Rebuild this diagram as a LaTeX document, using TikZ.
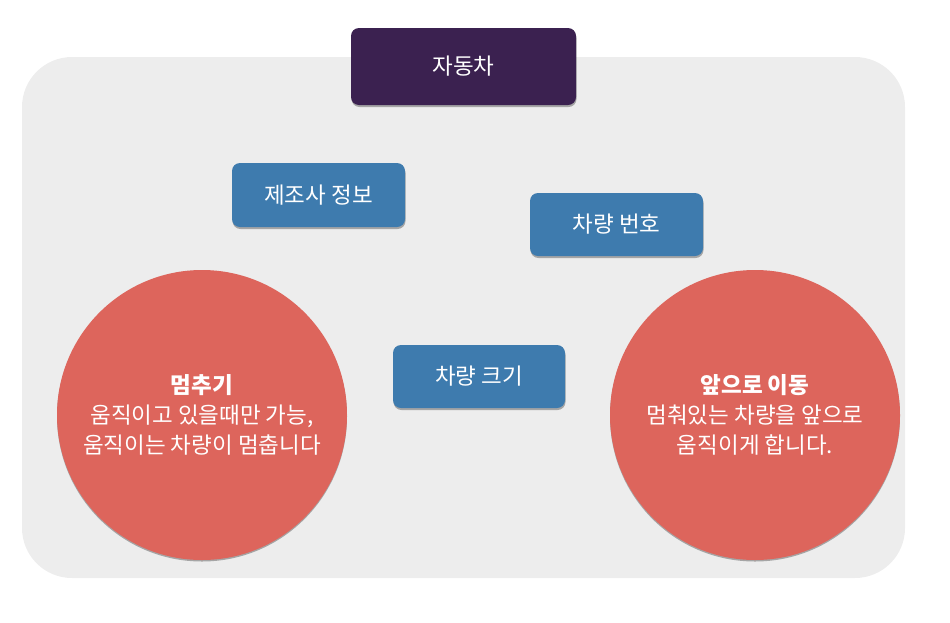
\documentclass[tikz,border=0pt]{standalone}
\usepackage{fontspec}
\newfontfamily\kr{Noto Sans CJK KR}
\usetikzlibrary{shadows}
\definecolor{bgpanel}{HTML}{EDEDED}
\definecolor{topc}{HTML}{3B2150}
\definecolor{bluec}{HTML}{3E7BAE}
\definecolor{redc}{HTML}{DD655C}
\tikzset{
  px/.style={x=1pt,y=-1pt},
  boxstyle/.style={rounded corners=8pt, text=white, font=\kr\fontsize{22.5}{26}\selectfont,
    drop shadow={shadow xshift=0.5pt, shadow yshift=-2pt, fill=black, opacity=0.3}, inner sep=0pt},
  circstyle/.style={circle, fill=redc, text=white, align=center, inner sep=0pt,
    font=\kr\fontsize{22.5}{30}\selectfont,
    drop shadow={shadow xshift=0pt, shadow yshift=-1.5pt, fill=black, opacity=0.3}}
}
\begin{document}
\begin{tikzpicture}[px]
\useasboundingbox (0,0) rectangle (950,622);
\fill[bgpanel, rounded corners=50pt] (22,57) rectangle (905,578);
\node[boxstyle, fill=topc, minimum width=225pt, minimum height=77pt] (car) at (463.5,66.5) {자동차};
\node[boxstyle, fill=bluec, minimum width=173pt, minimum height=64pt] (maker) at (318.5,195) {제조사 정보};
\node[boxstyle, fill=bluec, minimum width=173pt, minimum height=63pt] (plate) at (616.5,224.5) {차량 번호};
\node[boxstyle, fill=bluec, minimum width=172pt, minimum height=63pt] (size) at (479,376.5) {차량 크기};
\node[circstyle, minimum size=290pt] (stop) at (202,415) {\textbf{멈추기}\\움직이고 있을때만 가능,\\움직이는 차량이 멈춥니다};
\node[circstyle, minimum size=290pt] (fwd) at (755,415) {\textbf{앞으로 이동}\\멈춰있는 차량을 앞으로\\움직이게 합니다.};
\end{tikzpicture}
\end{document}
